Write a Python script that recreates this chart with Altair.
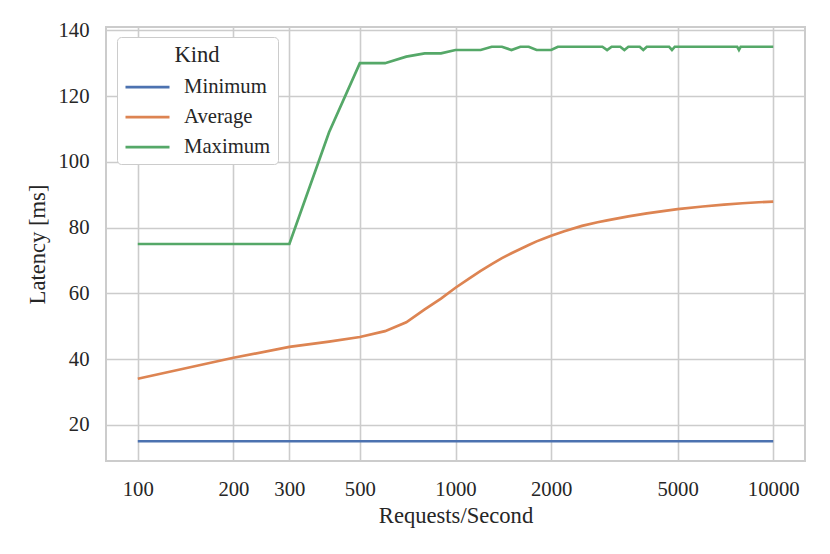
import altair as alt
import pandas as pd

# Requests/Second sample points
min_x = [100, 10000]
min_y = [15, 15]

avg_x = [100, 200, 300, 400, 500, 600, 700, 800, 900, 1000,
         1100, 1200, 1300, 1400, 1500, 1600, 1700, 1800, 1900, 2000,
         2200, 2500, 2800, 3000, 3500, 4000, 4500, 5000, 6000, 7000,
         8000, 9000, 10000]
avg_y = [34.0, 40.4, 43.7, 45.3, 46.7, 48.5, 51.2, 55.1, 58.4, 61.7,
         64.4, 66.8, 68.9, 70.7, 72.2, 73.5, 74.7, 75.8, 76.7, 77.5,
         78.9, 80.5, 81.6, 82.2, 83.4, 84.3, 85.0, 85.6, 86.4, 87.0,
         87.4, 87.7, 87.9]

max_x = [100, 300, 400, 500, 600, 700, 800, 900, 1000, 1200,
         1300, 1400, 1500, 1600, 1700, 1800, 2000, 2100, 2900, 3000,
         3100, 3300, 3400, 3500, 3800, 3900, 4000, 4700, 4800, 4900,
         7700, 7800, 7900, 10000]
max_y = [75, 75, 109, 130, 130, 132, 133, 133, 134, 134,
         135, 135, 134, 135, 135, 134, 134, 135, 135, 134,
         135, 135, 134, 135, 135, 134, 135, 135, 134, 135,
         135, 134, 135, 135]

kinds = ["Minimum", "Average", "Maximum"]
colors = ["#4c72b0", "#dd8452", "#55a868"]
x_ticks = [100, 200, 300, 500, 1000, 2000, 5000, 10000]
y_ticks = [20, 40, 60, 80, 100, 120, 140]

rows = []
for k, xs, ys in zip(kinds, [min_x, avg_x, max_x], [min_y, avg_y, max_y]):
    for i, (xv, yv) in enumerate(zip(xs, ys)):
        rows.append({"Requests/Second": xv, "Latency": yv, "Kind": k, "order": i})
df = pd.DataFrame(rows)

FONT = "Liberation Serif"
TXT = "#262626"

chart = alt.Chart(df).mark_line(strokeWidth=2.7, clip=True).encode(
    x=alt.X("Requests/Second:Q",
            scale=alt.Scale(type="log", domain=[79.43, 12589], nice=False),
            axis=alt.Axis(values=x_ticks, format="d", title="Requests/Second",
                          ticks=False, tickSize=0, domain=False,
                          labelPadding=34, labelBaseline="alphabetic",
                          labelFlush=False, labelOverlap=False,
                          titleY=61, titleBaseline="alphabetic")),
    y=alt.Y("Latency:Q",
            scale=alt.Scale(domain=[9, 141], nice=False, zero=False),
            axis=alt.Axis(values=y_ticks, title="Latency [ms]",
                          ticks=False, tickSize=0, domain=False,
                          labelPadding=17, labelBaseline="middle",
                          titleAngle=270, titleBaseline="middle",
                          titleX=-69, titleY=217)),
    color=alt.Color("Kind:N",
                    scale=alt.Scale(domain=kinds, range=colors),
                    sort=kinds,
                    legend=alt.Legend(title="Kind", orient="none",
                                      legendX=11, legendY=10,
                                      symbolType="M-1.467,0H1.467",
                                      symbolSize=900, symbolOffset=7,
                                      symbolStrokeWidth=2.7, rowPadding=3,
                                      labelOffset=20, titleAnchor="middle",
                                      titlePadding=4,
                                      padding=7, fillColor="white",
                                      strokeColor="#cccccc", cornerRadius=4)),
    order="order:Q",
).properties(
    width=699, height=434,
    autosize=alt.AutoSizeParams(type="none"),
    padding={"left": 98, "top": 19, "right": 15, "bottom": 80},
).configure_view(
    stroke="#cccccc", strokeWidth=2
).configure_axis(
    gridColor="#cccccc", gridWidth=1.6,
    labelFont=FONT, titleFont=FONT, labelFontSize=20.7, titleFontSize=22.6,
    labelColor=TXT, titleColor=TXT, titleFontWeight="normal",
).configure_legend(
    labelFont=FONT, titleFont=FONT, labelFontSize=20.7, titleFontSize=22.6,
    labelColor=TXT, titleColor=TXT, titleFontWeight="normal",
)

chart.save("out.html", embed_options={"renderer": "svg", "actions": False})
